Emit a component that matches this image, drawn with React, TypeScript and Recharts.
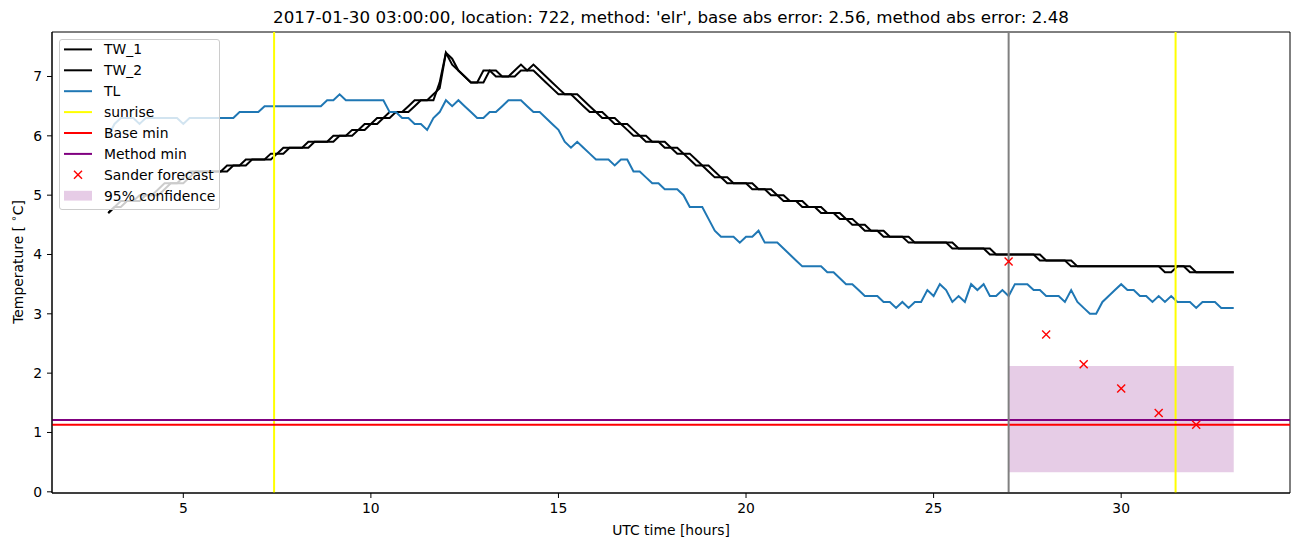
import React from 'react';
import {
  ComposedChart,
  Line,
  Scatter,
  XAxis,
  YAxis,
  ReferenceLine,
  ReferenceArea,
} from 'recharts';

const START_HOUR = 3;
const STEP_MINUTES = 10;

const TW_1 = [
  4.7, 4.8, 4.9, 4.9, 4.9, 5.0, 5.0, 5.0, 5.1, 5.2, 5.2, 5.2, 5.3, 5.4, 5.4, 5.4, 5.4, 5.4,
  5.4, 5.5, 5.5, 5.5, 5.6, 5.6, 5.6, 5.6, 5.7, 5.7, 5.8, 5.8, 5.8, 5.8, 5.9, 5.9, 5.9, 5.9,
  6.0, 6.0, 6.0, 6.1, 6.1, 6.2, 6.2, 6.3, 6.3, 6.4, 6.4, 6.4, 6.5, 6.6, 6.6, 6.6, 6.7, 6.8,
  7.4, 7.2, 7.1, 7.0, 6.9, 6.9, 7.1, 7.1, 7.0, 7.0, 7.0, 7.1, 7.2, 7.1, 7.1, 7.0, 6.9, 6.8,
  6.7, 6.7, 6.7, 6.6, 6.5, 6.4, 6.4, 6.3, 6.3, 6.2, 6.2, 6.1, 6.0, 6.0, 5.9, 5.9, 5.9, 5.8,
  5.8, 5.7, 5.7, 5.6, 5.5, 5.5, 5.4, 5.3, 5.3, 5.2, 5.2, 5.2, 5.2, 5.1, 5.1, 5.1, 5.0, 5.0,
  4.9, 4.9, 4.9, 4.8, 4.8, 4.8, 4.7, 4.7, 4.7, 4.6, 4.6, 4.5, 4.5, 4.4, 4.4, 4.4, 4.3, 4.3,
  4.3, 4.3, 4.2, 4.2, 4.2, 4.2, 4.2, 4.2, 4.2, 4.1, 4.1, 4.1, 4.1, 4.1, 4.1, 4.0, 4.0, 4.0,
  4.0, 4.0, 4.0, 4.0, 4.0, 3.9, 3.9, 3.9, 3.9, 3.9, 3.8, 3.8, 3.8, 3.8, 3.8, 3.8, 3.8, 3.8,
  3.8, 3.8, 3.8, 3.8, 3.8, 3.8, 3.8, 3.7, 3.7, 3.8, 3.8, 3.7, 3.7, 3.7, 3.7, 3.7, 3.7, 3.7,
  3.7,
];

const TW_2 = [
  4.7, 4.8, 4.8, 4.9, 4.9, 4.9, 5.0, 5.0, 5.0, 5.1, 5.2, 5.2, 5.2, 5.3, 5.4, 5.4, 5.4, 5.4,
  5.4, 5.4, 5.5, 5.5, 5.5, 5.6, 5.6, 5.6, 5.6, 5.7, 5.7, 5.8, 5.8, 5.8, 5.8, 5.9, 5.9, 5.9,
  5.9, 6.0, 6.0, 6.0, 6.1, 6.1, 6.2, 6.2, 6.3, 6.3, 6.4, 6.4, 6.4, 6.5, 6.6, 6.6, 6.6, 6.9,
  7.4, 7.3, 7.1, 7.0, 6.9, 6.9, 6.9, 7.1, 7.1, 7.0, 7.0, 7.0, 7.1, 7.1, 7.2, 7.1, 7.0, 6.9,
  6.8, 6.7, 6.7, 6.7, 6.6, 6.5, 6.4, 6.4, 6.3, 6.3, 6.2, 6.2, 6.1, 6.0, 6.0, 5.9, 5.9, 5.9,
  5.8, 5.8, 5.7, 5.7, 5.6, 5.5, 5.5, 5.4, 5.3, 5.3, 5.2, 5.2, 5.2, 5.2, 5.1, 5.1, 5.1, 5.0,
  5.0, 4.9, 4.9, 4.9, 4.8, 4.8, 4.8, 4.7, 4.7, 4.7, 4.6, 4.6, 4.5, 4.5, 4.4, 4.4, 4.4, 4.3,
  4.3, 4.3, 4.3, 4.2, 4.2, 4.2, 4.2, 4.2, 4.2, 4.2, 4.1, 4.1, 4.1, 4.1, 4.1, 4.1, 4.0, 4.0,
  4.0, 4.0, 4.0, 4.0, 4.0, 4.0, 3.9, 3.9, 3.9, 3.9, 3.9, 3.8, 3.8, 3.8, 3.8, 3.8, 3.8, 3.8,
  3.8, 3.8, 3.8, 3.8, 3.8, 3.8, 3.8, 3.8, 3.8, 3.8, 3.8, 3.8, 3.7, 3.7, 3.7, 3.7, 3.7, 3.7,
  3.7,
];

const TL = [
  6.0, 6.2, 6.3, 6.3, 6.3, 6.2, 6.3, 6.3, 6.3, 6.3, 6.3, 6.3, 6.2, 6.3, 6.3, 6.3, 6.3, 6.3,
  6.3, 6.3, 6.3, 6.4, 6.4, 6.4, 6.4, 6.5, 6.5, 6.5, 6.5, 6.5, 6.5, 6.5, 6.5, 6.5, 6.5, 6.6,
  6.6, 6.7, 6.6, 6.6, 6.6, 6.6, 6.6, 6.6, 6.6, 6.4, 6.4, 6.3, 6.3, 6.2, 6.2, 6.1, 6.3, 6.4,
  6.6, 6.5, 6.6, 6.5, 6.4, 6.3, 6.3, 6.4, 6.4, 6.5, 6.6, 6.6, 6.6, 6.5, 6.4, 6.4, 6.3, 6.2,
  6.1, 5.9, 5.8, 5.9, 5.8, 5.7, 5.6, 5.6, 5.6, 5.5, 5.6, 5.6, 5.4, 5.4, 5.3, 5.2, 5.2, 5.1,
  5.1, 5.1, 5.0, 4.8, 4.8, 4.8, 4.6, 4.4, 4.3, 4.3, 4.3, 4.2, 4.3, 4.3, 4.4, 4.2, 4.2, 4.2,
  4.1, 4.0, 3.9, 3.8, 3.8, 3.8, 3.8, 3.7, 3.7, 3.6, 3.5, 3.5, 3.4, 3.3, 3.3, 3.3, 3.2, 3.2,
  3.1, 3.2, 3.1, 3.2, 3.2, 3.4, 3.3, 3.5, 3.4, 3.2, 3.3, 3.2, 3.5, 3.4, 3.5, 3.3, 3.3, 3.4,
  3.3, 3.5, 3.5, 3.5, 3.4, 3.4, 3.3, 3.3, 3.3, 3.2, 3.4, 3.2, 3.1, 3.0, 3.0, 3.2, 3.3, 3.4,
  3.5, 3.4, 3.4, 3.3, 3.3, 3.2, 3.3, 3.2, 3.3, 3.2, 3.2, 3.2, 3.1, 3.2, 3.2, 3.2, 3.1, 3.1,
  3.1,
];

const SUNRISE_HOURS = [7.42, 31.45];
const FORECAST_START_HOUR = 27;
const BASE_MIN = 1.13;
const METHOD_MIN = 1.21;
const SANDER_HOURS = [27, 28, 29, 30, 31, 32];
const SANDER_VALUES = [3.88, 2.65, 2.15, 1.74, 1.33, 1.13];
const CONF_HOURS = [27, 33];
const CONF_BOUNDS = [0.33, 2.12];

const X_DOMAIN = [1.5, 34.5];
const Y_DOMAIN = [-0.02, 7.75];
const X_TICKS = [5, 10, 15, 20, 25, 30];
const Y_TICKS = [0, 1, 2, 3, 4, 5, 6, 7];

const TITLE =
  "2017-01-30 03:00:00, location: 722, method: 'elr', base abs error: 2.56, method abs error: 2.48";
const X_LABEL = 'UTC time [hours]';

const LEGEND_ITEMS = [
  { label: 'TW_1', kind: 'line', color: '#000000' },
  { label: 'TW_2', kind: 'line', color: '#000000' },
  { label: 'TL', kind: 'line', color: '#1f77b4' },
  { label: 'sunrise', kind: 'line', color: '#ffff00' },
  { label: 'Base min', kind: 'line', color: '#ff0000' },
  { label: 'Method min', kind: 'line', color: '#800080' },
  { label: 'Sander forecast', kind: 'x', color: '#ff0000' },
  { label: '95% confidence', kind: 'patch', color: 'rgba(128,0,128,0.2)' },
];

const FONT = "'DejaVu Sans', sans-serif";

const rows = TW_1.map((v, i) => ({
  t: START_HOUR + (i * STEP_MINUTES) / 60,
  tw1: v,
  tw2: TW_2[i],
  tl: TL[i],
}));

const forecastRows = SANDER_HOURS.map((h, i) => ({ t: h, sander: SANDER_VALUES[i] }));

const XMark = (props: any) => {
  const { cx, cy } = props;
  if (cx == null || cy == null) return null;
  const s = 4;
  return (
    <g>
      <line x1={cx - s} y1={cy - s} x2={cx + s} y2={cy + s} stroke="#ff0000" strokeWidth={1.4} />
      <line x1={cx - s} y1={cy + s} x2={cx + s} y2={cy - s} stroke="#ff0000" strokeWidth={1.4} />
    </g>
  );
};

const LegendBox = () => {
  const rowH = 20.9;
  const top = 10.9;
  return (
    <div
      style={{
        position: 'absolute',
        left: 59,
        top: 39,
        width: 161,
        height: 171,
        boxSizing: 'border-box',
        backgroundColor: 'rgba(255,255,255,0.8)',
        border: '1px solid #cccccc',
        borderRadius: 3,
        zIndex: 20,
      }}
    >
      <svg width={159} height={169} style={{ display: 'block' }}>
        {LEGEND_ITEMS.map((it, i) => {
          const cy = top + i * rowH - 1.5;
          return (
            <g key={it.label}>
              {it.kind === 'line' && (
                <line x1={4} x2={32} y1={cy} y2={cy} stroke={it.color} strokeWidth={2} />
              )}
              {it.kind === 'x' && (
                <g>
                  <line x1={14} y1={cy - 4} x2={22} y2={cy + 4} stroke={it.color} strokeWidth={1.4} />
                  <line x1={14} y1={cy + 4} x2={22} y2={cy - 4} stroke={it.color} strokeWidth={1.4} />
                </g>
              )}
              {it.kind === 'patch' && (
                <rect x={4} y={cy - 4.9} width={28} height={9.8} fill={it.color} />
              )}
              <text x={44} y={cy} dominantBaseline="central" fontSize={13.9} fontFamily={FONT} fill="#000">
                {it.label}
              </text>
            </g>
          );
        })}
      </svg>
    </div>
  );
};

export default function App() {
  return (
    <div
      style={{
        position: 'absolute',
        left: 0,
        top: 0,
        width: 1302,
        height: 547,
        background: '#fff',
        fontFamily: FONT,
      }}
    >
      <div style={{ position: 'absolute', left: 0, top: 0, zIndex: 1 }}>
        <ComposedChart
          width={1302}
          height={547}
          data={rows}
          margin={{ top: 32, right: 12, bottom: 24, left: 0 }}
          style={{ fontFamily: FONT }}
        >
          <XAxis
            type="number"
            dataKey="t"
            domain={X_DOMAIN}
            ticks={X_TICKS}
            allowDataOverflow
            height={30}
            tickSize={5}
            tickMargin={5}
            stroke="#000"
            tick={{ fill: '#000', fontSize: 13.9, fontFamily: FONT }}
          />
          <YAxis
            type="number"
            domain={Y_DOMAIN}
            ticks={Y_TICKS}
            allowDataOverflow
            width={52}
            tickSize={5}
            tickMargin={5}
            stroke="#000"
            tick={{ fill: '#000', fontSize: 13.9, fontFamily: FONT }}
          />
          <ReferenceArea
            x1={CONF_HOURS[0]}
            x2={CONF_HOURS[1]}
            y1={CONF_BOUNDS[0]}
            y2={CONF_BOUNDS[1]}
            fill="#800080"
            fillOpacity={0.2}
            stroke="none"
          />
          <Line type="linear" dataKey="tw1" stroke="#000000" strokeWidth={2} dot={false} isAnimationActive={false} />
          <Line type="linear" dataKey="tw2" stroke="#000000" strokeWidth={2} dot={false} isAnimationActive={false} />
          <Line type="linear" dataKey="tl" stroke="#1f77b4" strokeWidth={2} dot={false} isAnimationActive={false} />
          {SUNRISE_HOURS.map((h) => (
            <ReferenceLine key={h} x={h} stroke="#ffff00" strokeWidth={2} />
          ))}
          <ReferenceLine y={BASE_MIN} stroke="#ff0000" strokeWidth={2} />
          <ReferenceLine y={METHOD_MIN} stroke="#800080" strokeWidth={2} />
          <ReferenceLine x={FORECAST_START_HOUR} stroke="#808080" strokeWidth={2} />
          <Scatter data={forecastRows} dataKey="sander" shape={XMark} isAnimationActive={false} />
          <ReferenceArea
            x1={X_DOMAIN[0]}
            x2={X_DOMAIN[1]}
            y1={Y_DOMAIN[0]}
            y2={Y_DOMAIN[1]}
            fill="none"
            stroke="#000"
            strokeWidth={1}
          />
        </ComposedChart>
      </div>
      <LegendBox />
      <svg
        width={1302}
        height={547}
        style={{ position: 'absolute', left: 0, top: 0, pointerEvents: 'none', zIndex: 10 }}
      >
        <text x={671} y={23} textAnchor="middle" fontSize={16.7} fontFamily={FONT} fill="#000">
          {TITLE}
        </text>
        <text x={671} y={535} textAnchor="middle" fontSize={13.9} fontFamily={FONT} fill="#000">
          {X_LABEL}
        </text>
        <text
          x={0}
          y={0}
          transform="translate(23,262) rotate(-90)"
          textAnchor="middle"
          fontSize={13.9}
          fontFamily={FONT}
          fill="#000"
        >
          Temperature [ <tspan fontSize={10} dy={-6}>∘</tspan>
          <tspan dy={6}>C]</tspan>
        </text>
      </svg>
    </div>
  );
}
